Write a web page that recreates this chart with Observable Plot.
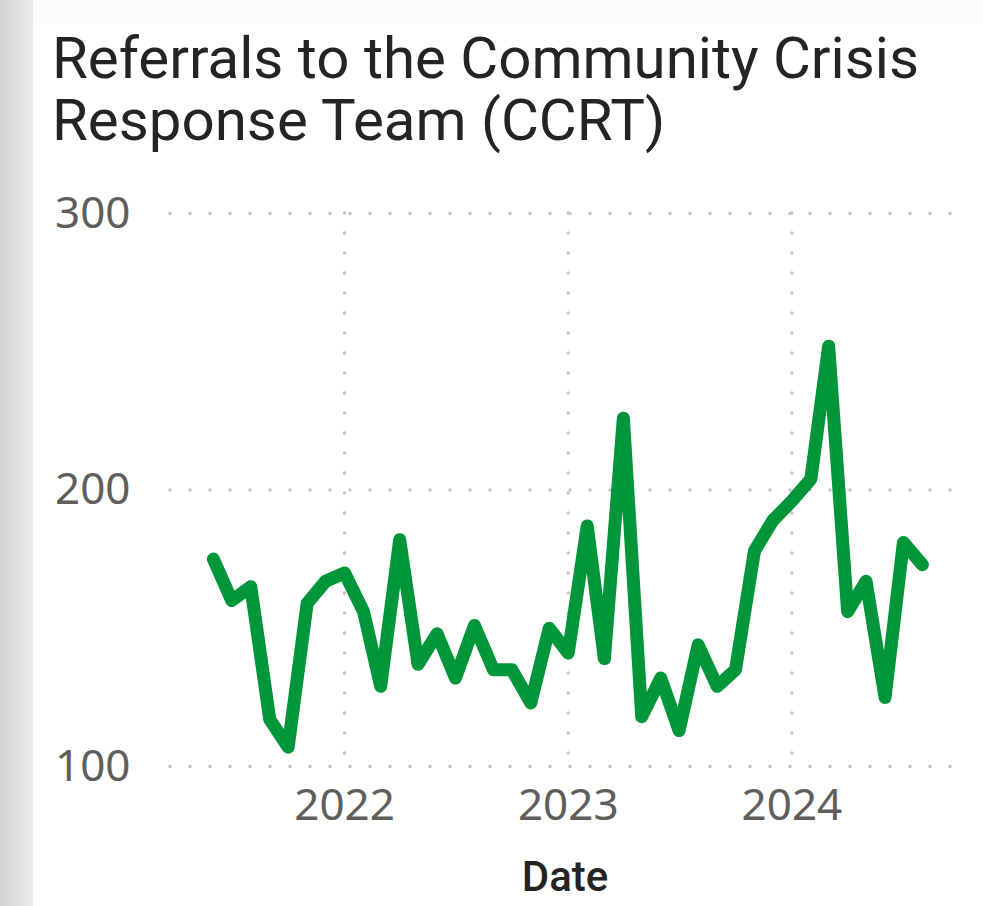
<!DOCTYPE html>
<html><head><meta charset="utf-8">
<script src="https://cdn.jsdelivr.net/npm/d3@7"></script>
<script src="https://cdn.jsdelivr.net/npm/@observablehq/plot@0.6"></script>
<style>
html,body{margin:0;padding:0;}
body{width:983px;height:906px;overflow:hidden;position:relative;background:linear-gradient(#fbfbfb,#f2f2f2);}
#shade{position:absolute;left:0;top:0;width:33px;height:906px;background:linear-gradient(to right,#d3d3d3,#ebebeb);}
#card{position:absolute;left:33px;top:24px;width:950px;height:882px;background:#fff;}
#title{position:absolute;left:52px;top:28px;font-family:Roboto,sans-serif;font-size:57px;line-height:62px;color:#252423;white-space:nowrap;transform-origin:0 0;}
#chart{position:absolute;left:33px;top:160px;}
#xlabel{position:absolute;left:465px;width:200px;text-align:center;top:856px;font:500 42px/42px Roboto,sans-serif;color:#252423;}
</style>
</head><body>
<div id="shade"></div>
<div id="card"></div>
<div id="title"><span id="t1">Referrals to the Community Crisis</span><br><span>Response Team (CCRT)</span></div>
<div id="chart"></div>
<div id="xlabel">Date</div>
<script>
const months = ["2021-06","2021-07","2021-08","2021-09","2021-10","2021-11","2021-12",
  "2022-01","2022-02","2022-03","2022-04","2022-05","2022-06","2022-07","2022-08","2022-09","2022-10","2022-11","2022-12",
  "2023-01","2023-02","2023-03","2023-04","2023-05","2023-06","2023-07","2023-08","2023-09","2023-10","2023-11","2023-12",
  "2024-01","2024-02","2024-03","2024-04","2024-05","2024-06","2024-07","2024-08"];
const referrals = [175,160,165,117,107,159,167,
  170,156,129,182,137,148,132,151,135,135,123,150,
  141,187,139,226,118,132,113,144,129,135,178,189,
  196,204,252,156,167,125,181,173];
const yTicks = [100,200,300];
const xTickLabels = ["2022","2023","2024"];

const data = months.map((m,i)=>({date:new Date(m+"-01"), value:referrals[i]}));
const xTicks = xTickLabels.map(y=>new Date(y+"-01-01"));

const chart = Plot.plot({
  width:950, height:746,
  marginTop:53, marginBottom:140, marginLeft:137, marginRight:28,
  style:{fontFamily:"'Noto Sans', sans-serif", fontSize:"44px", background:"transparent", overflow:"visible"},
  x:{type:"utc", domain:[new Date("2021-03-23"), new Date("2024-09-24")]},
  y:{domain:[100,300]},
  marks:[
    Plot.gridY({ticks:yTicks, stroke:"#c6c6c6", strokeOpacity:1, strokeWidth:3.5, strokeDasharray:"0,20", strokeLinecap:"round"}),
    Plot.gridX({ticks:xTicks, stroke:"#c6c6c6", strokeOpacity:1, strokeWidth:3.5, strokeDasharray:"0,20", strokeLinecap:"round"}),
    Plot.axisY({ticks:yTicks, tickSize:0, tickPadding:40, color:"#605e5c", label:null}),
    Plot.axisX({ticks:xTicks, tickFormat:d3.utcFormat("%Y"), tickSize:0, tickPadding:22, color:"#605e5c", label:null}),
    Plot.line(data, {x:"date", y:"value", stroke:"#009639", strokeWidth:13, strokeLinejoin:"round", strokeLinecap:"round"})
  ]
});
document.getElementById("chart").appendChild(chart);

const w = document.getElementById("t1").getBoundingClientRect().width;
document.getElementById("title").style.transform = `scaleX(${867/w})`;
</script>
</body></html>
